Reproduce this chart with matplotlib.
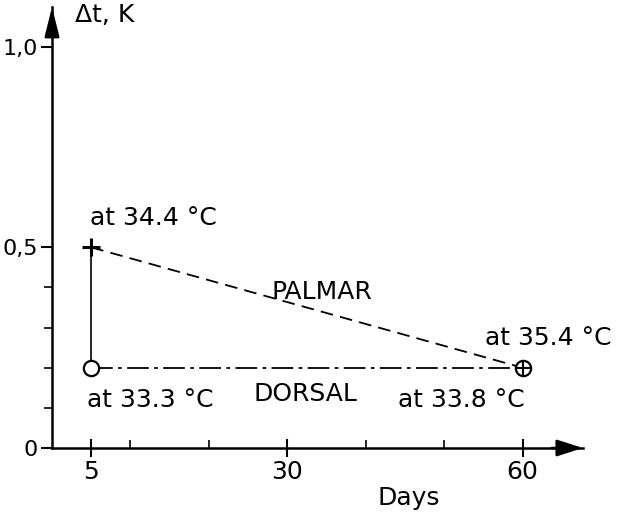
import matplotlib
matplotlib.use("Agg")
import matplotlib.pyplot as plt

# Data
days = [5, 60]
palmar = [0.5, 0.2]
dorsal = [0.2, 0.2]
palmar_labels = ["at 34.4 °C", "at 35.4 °C"]
dorsal_labels = ["at 33.3 °C", "at 33.8 °C"]
x_major = [5, 30, 60]
x_major_labels = ["5", "30", "60"]
x_minor = [10, 20, 40, 50]
y_major = [0, 0.5, 1.0]
y_major_labels = ["0", "0,5", "1,0"]
y_minor = [0.1, 0.2, 0.3, 0.4]

plt.rcParams['font.family'] = ['DejaVu Sans']
fs = 18
tfs = 18
yfs = 16

XMAX = 67.7
YMAX = 1.099

fig = plt.figure(figsize=(6.19, 5.23), dpi=100)
ax = fig.add_axes([52/619, 75/523, 531/619, 441/523])
ax.set_xlim(0, XMAX)
ax.set_ylim(0, YMAX)

for s in ['top', 'right']:
    ax.spines[s].set_visible(False)
for s in ['left', 'bottom']:
    ax.spines[s].set_linewidth(1.8)

# arrow heads
ax.annotate("", xy=(XMAX, 0), xytext=(XMAX - 4, 0),
            arrowprops=dict(arrowstyle="-|>,head_length=1.0,head_width=0.32",
                            mutation_scale=16, color='black', lw=1.8,
                            shrinkA=0, shrinkB=0),
            annotation_clip=False)
ax.annotate("", xy=(0, YMAX), xytext=(0, YMAX - 0.06),
            arrowprops=dict(arrowstyle="-|>,head_length=1.2,head_width=0.3",
                            mutation_scale=15, color='black', lw=1.8,
                            shrinkA=0, shrinkB=0),
            annotation_clip=False)

ax.set_xticks(x_major)
ax.set_xticklabels(x_major_labels, fontsize=tfs)
ax.set_xticks(x_minor, minor=True)
ax.set_yticks(y_major)
ax.set_yticklabels(y_major_labels, fontsize=yfs)
ax.set_yticks(y_minor, minor=True)
ax.tick_params(axis='x', which='major', direction='inout', length=13, width=1.5, pad=2)
ax.tick_params(axis='x', which='minor', direction='in', length=6, width=1.2)
ax.tick_params(axis='y', which='major', direction='out', length=8, width=1.5, pad=2)
ax.tick_params(axis='y', which='minor', direction='out', length=6, width=1.2)

# vertical connector at day 5
ax.plot([days[0], days[0]], [dorsal[0], palmar[0]], color='black', lw=1.2, zorder=2)
# palmar dashed
ax.plot(days, palmar, color='black', lw=1.3, linestyle=(0, (7, 4)), zorder=2)
# dorsal dash-dot
ax.plot(days, dorsal, color='black', lw=1.3, linestyle=(0, (12, 3, 2, 3)), zorder=2)

# markers
ax.plot(days[0], palmar[0], marker='+', markersize=13, mew=2.2, color='black', zorder=3)
ax.plot(days[0], dorsal[0], marker='o', markersize=11, mew=1.6, mfc='white', mec='black', zorder=3)
ax.plot(days[1], dorsal[1], marker='o', markersize=11, mew=1.6, mfc='white', mec='black', zorder=3)
ax.plot(days[1], dorsal[1], marker='+', markersize=11, mew=1.5, color='black', zorder=4)

# texts
ax.text(days[0] - 0.1, 0.573, palmar_labels[0], fontsize=fs, ha='left', va='center')
ax.text(71.3, 0.274, palmar_labels[1], fontsize=fs, ha='right', va='center', clip_on=False)
ax.text(days[0] - 0.6, 0.12, dorsal_labels[0], fontsize=fs, ha='left', va='center')
ax.text(60.3, 0.12, dorsal_labels[1], fontsize=fs, ha='right', va='center')
ax.text(34.4, 0.39, "PALMAR", fontsize=fs, ha='center', va='center')
ax.text(32.3, 0.135, "DORSAL", fontsize=fs, ha='center', va='center')
ax.text(2.9, 1.08, "Δt, K", fontsize=fs, ha='left', va='center')
ax.text(45.5, -0.125, "Days", fontsize=fs, ha='center', va='center')

fig.savefig("out.png", dpi=100)
